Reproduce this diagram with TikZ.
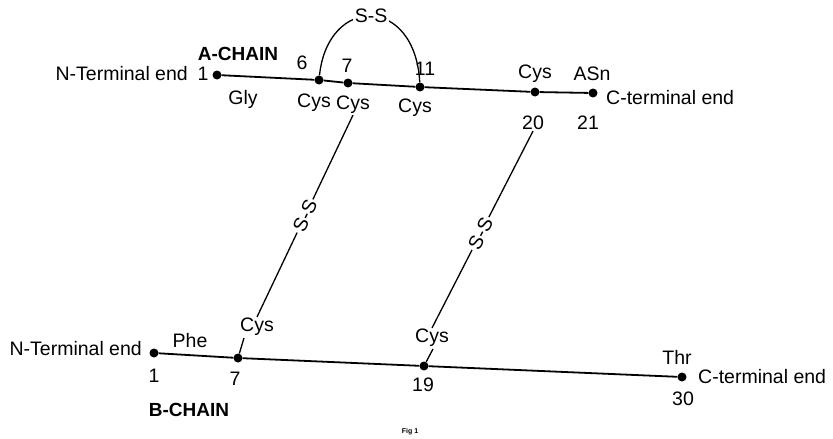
\documentclass[tikz,border=0pt]{standalone}
\usepackage{fontspec}
\setmainfont{Liberation Sans}
\begin{document}
\begin{tikzpicture}[x=1pt,y=-1pt,
  dot/.style={circle,fill=black,inner sep=0pt,minimum size=9pt},
  lbl/.style={font=\fontsize{19.5}{21}\selectfont,inner sep=1pt},
  title/.style={font=\fontsize{19}{21}\selectfont\bfseries,inner sep=1pt},
  chain/.style={line width=1.8pt},
  bond/.style={line width=1.3pt},
  bondlbl/.style={lbl,fill=white,inner sep=2pt}]
\useasboundingbox (0,0) rectangle (833,439);
% A chain residues
\node[dot] (a1) at (217,75) {};
\node[dot] (a6) at (319,80) {};
\node[dot] (a7) at (348,83) {};
\node[dot] (a11) at (420,87) {};
\node[dot] (a20) at (535,92) {};
\node[dot] (a21) at (593,93) {};
\draw[chain] (a1) -- (a6) -- (a7) -- (a11) -- (a20) -- (a21);
% A chain labels
\node[lbl,anchor=east] (antext) at (189,74) {N-Terminal end};
\node[lbl] (n1a) at (203,74) {1};
\node[title] (achain) at (238,54) {A-CHAIN};
\node[lbl] (n6) at (302,63) {6};
\node[lbl] (n7) at (347,66) {7};
\node[lbl] (n11) at (425,69) {11};
\node[lbl] (gly) at (243,99) {Gly};
\node[lbl] (cysa6) at (314,103) {Cys};
\node[lbl] (cysa7) at (353,105) {Cys};
\node[lbl] (cysa11) at (415,108) {Cys};
\node[lbl] (cysa20) at (535,74) {Cys};
\node[lbl] (asn) at (592,74) {ASn};
\node[lbl,anchor=west] (actext) at (605,98) {C-terminal end};
\node[lbl] (n20) at (533,123) {20};
\node[lbl] (n21) at (588,123) {21};
% intra-chain S-S
\draw[bond] (a6) .. controls (328,-5) and (415,-5) .. node[pos=0.5,bondlbl] {S-S} (a11);
% B chain residues
\node[dot] (b1) at (154,353) {};
\node[dot] (b7) at (238,358) {};
\node[dot] (b19) at (424,366) {};
\node[dot] (b30) at (682,377) {};
\draw[chain] (b1) -- (b7) -- (b19) -- (b30);
% B chain labels
\node[lbl,anchor=east] (bntext) at (143,349) {N-Terminal end};
\node[lbl] (phe) at (190,341) {Phe};
\node[lbl] (cysb7) at (257,327) {Cys};
\node[lbl] (n1b) at (154,376) {1};
\node[lbl] (n7b) at (235,379) {7};
\node[lbl] (n19) at (423,385) {19};
\node[title] (bchain) at (189,410) {B-CHAIN};
\node[lbl] (cysb19) at (432,338) {Cys};
\node[lbl] (thr) at (677,357) {Thr};
\node[lbl,anchor=west] (bctext) at (697,377) {C-terminal end};
\node[lbl] (n30) at (683,399) {30};
\node[font=\fontsize{7}{8}\selectfont\bfseries] (fig) at (410,432) {Fig 1};
% inter-chain S-S bridges
\draw[bond] (cysa7.south) -- node[pos=0.5,bondlbl,sloped] {S-S} (cysb7.north);
\draw[bond] (n20.south) -- node[pos=0.52,bondlbl,sloped] {S-S} (cysb19.north);
\coordinate (b7top) at (244,338);
\coordinate (b19top) at (433,349);
\draw[bond] (b7top) -- (b7);
\draw[bond] (b19top) -- (b19);
\end{tikzpicture}
\end{document}
